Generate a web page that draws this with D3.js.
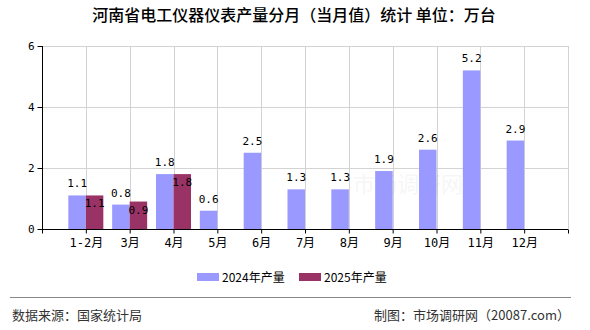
<!DOCTYPE html>
<html>
<head>
<meta charset="utf-8">
<script src="https://cdn.jsdelivr.net/npm/d3@7"></script>
<style>
  body { margin: 0; background: #fff; }
  text { font-family: "DejaVu Sans Mono", "Noto Sans CJK SC", monospace; }
</style>
</head>
<body>
<div id="chart"></div>
<script>
const width = 590;
const height = 330;

const months = ["1-2月", "3月", "4月", "5月", "6月", "7月", "8月", "9月", "10月", "11月", "12月"];
const values2024 = [1.1, 0.8, 1.8, 0.6, 2.5, 1.3, 1.3, 1.9, 2.6, 5.2, 2.9];
const values2025 = [1.1, 0.9, 1.8];
const yTicks = [0, 2, 4, 6];
const seriesNames = ["2024年产量", "2025年产量"];
const colors = ["#9999ff", "#993366"];

const plotLeft = 42, plotRight = 568, plotTop = 46, plotBottom = 229;
const barW = 17.5;

const svg = d3.select("#chart").append("svg")
  .attr("width", width).attr("height", height);

// x: one empty slot before and after the months
const xScale = d3.scalePoint()
  .domain(["_a", ...months, "_b"])
  .range([plotLeft, plotRight]);

const yScale = d3.scaleLinear().domain([0, 6]).range([plotBottom, plotTop]);

// title
svg.append("text")
  .attr("x", 294).attr("y", 21)
  .attr("text-anchor", "middle")
  .style("font-family", "'Noto Sans CJK SC', sans-serif")
  .style("font-size", "16px")
  .style("font-weight", "500")
  .attr("fill", "#000")
  .text("河南省电工仪器仪表产量分月（当月值）统计 单位：万台");

// grid
const grid = svg.append("g").attr("stroke", "#d3d3d3").attr("stroke-width", 1);
grid.selectAll(".hg").data(yTicks.slice(1)).enter().append("line")
  .attr("x1", plotLeft).attr("x2", plotRight)
  .attr("y1", d => Math.round(yScale(d)) + 0.5)
  .attr("y2", d => Math.round(yScale(d)) + 0.5);
grid.selectAll(".vg").data([...months, "_b"]).enter().append("line")
  .attr("x1", d => Math.round(xScale(d)) + 0.5)
  .attr("x2", d => Math.round(xScale(d)) + 0.5)
  .attr("y1", plotTop).attr("y2", plotBottom);

// watermark
svg.append("text")
  .attr("x", 408).attr("y", 192)
  .attr("text-anchor", "middle")
  .style("font-family", "'Noto Sans CJK SC', sans-serif")
  .style("font-size", "22px")
  .attr("fill", "#000").attr("opacity", 0.03)
  .text("市场调研网");

// bars 2024
svg.selectAll(".b24").data(values2024).enter().append("rect")
  .attr("x", (d, i) => xScale(months[i]) - barW)
  .attr("y", d => yScale(d))
  .attr("width", barW)
  .attr("height", d => plotBottom - yScale(d))
  .attr("fill", colors[0]);

// bars 2025
svg.selectAll(".b25").data(values2025).enter().append("rect")
  .attr("x", (d, i) => xScale(months[i]))
  .attr("y", d => yScale(d))
  .attr("width", barW)
  .attr("height", d => plotBottom - yScale(d))
  .attr("fill", colors[1]);

// labels
svg.selectAll(".l24").data(values2024).enter().append("text")
  .attr("x", (d, i) => xScale(months[i]) - barW / 2)
  .attr("y", d => yScale(d) - 8)
  .attr("text-anchor", "middle")
  .style("font-size", "11px")
  .attr("fill", "#000")
  .text(d => d.toFixed(1));

svg.selectAll(".l25").data(values2025).enter().append("text")
  .attr("x", (d, i) => xScale(months[i]) + barW / 2)
  .attr("y", d => yScale(d) + 12)
  .attr("text-anchor", "middle")
  .style("font-size", "11px")
  .attr("fill", "#000")
  .text(d => d.toFixed(1));

// axes
const xAxis = d3.axisBottom(xScale)
  .tickSize(4)
  .tickFormat(d => d.startsWith("_") ? "" : d);
const xAxisG = svg.append("g")
  .attr("transform", "translate(0," + (plotBottom + 0.5) + ")")
  .call(xAxis);
xAxisG.select(".domain").attr("d", "M" + plotLeft + ",0H" + plotRight);
xAxisG.selectAll("text").style("font-size", "12px").attr("fill", "#000").attr("dy", "0.9em");

const yAxis = d3.axisLeft(yScale).tickValues(yTicks).tickFormat(d3.format("d")).tickSize(5);
const yAxisG = svg.append("g")
  .attr("transform", "translate(" + (plotLeft + 0.5) + ",0)")
  .call(yAxis);
yAxisG.select(".domain").attr("d", "M0," + plotTop + "V" + plotBottom);
yAxisG.selectAll("text").style("font-size", "11px").attr("fill", "#000");
svg.selectAll(".domain, .tick line").attr("stroke", "#000");

// legend
const legend = svg.append("g").attr("transform", "translate(197,273)");
const items = legend.selectAll("g").data(seriesNames).enter().append("g")
  .attr("transform", (d, i) => "translate(" + i * 102 + ",0)");
items.append("rect").attr("width", 22).attr("height", 8).attr("fill", (d, i) => colors[i]);
items.append("text")
  .attr("x", 25).attr("y", 8.5)
  .style("font-family", "'Noto Sans CJK SC', sans-serif")
  .style("font-size", "12px")
  .attr("fill", "#000")
  .text(d => d);

// footer
svg.append("line")
  .attr("x1", 10).attr("x2", 571).attr("y1", 297.5).attr("y2", 297.5)
  .attr("stroke", "#888").attr("stroke-width", 1);
svg.append("text")
  .attr("x", 12).attr("y", 320)
  .style("font-family", "'Noto Sans CJK SC', sans-serif")
  .style("font-size", "13px").attr("fill", "#333")
  .text("数据来源：国家统计局");
svg.append("text")
  .attr("x", 570).attr("y", 320)
  .attr("text-anchor", "end")
  .style("font-family", "'Noto Sans CJK SC', sans-serif")
  .style("font-size", "13px").attr("fill", "#333")
  .text("制图：市场调研网（20087.com）");
</script>
</body>
</html>
